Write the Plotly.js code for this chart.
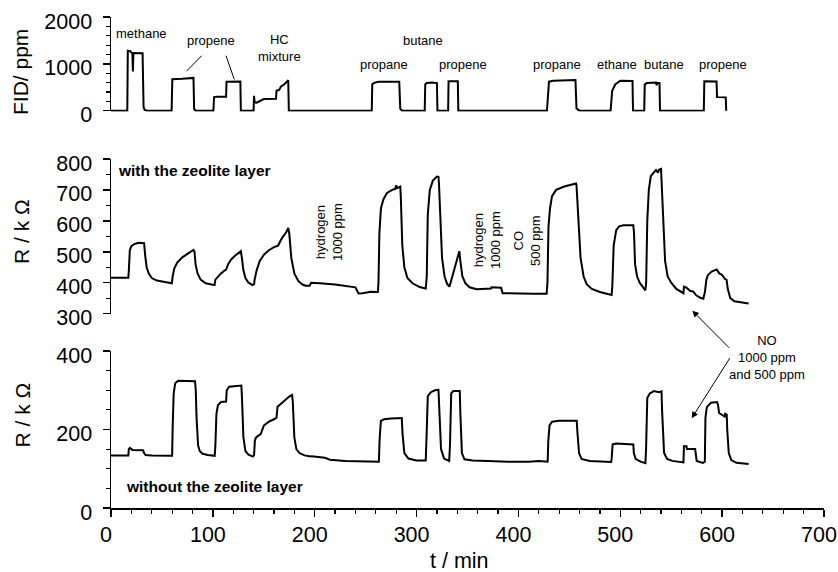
<!DOCTYPE html>
<html>
<head>
<meta charset="utf-8">
<script src="https://cdn.plot.ly/plotly-3.0.1.min.js"></script>
<style>html,body{margin:0;padding:0;background:#fff;}#chart{width:838px;height:572px;}</style>
</head>
<body>
<div id="chart"></div>
<script>
// ---------- data ----------
// FID signal (ppm) vs time (min)
const fidTime = [0,16,16.5,19,20,21,21.5,22,31,32,33,35,59.5,60.2,70,81,81.6,83,100.5,101.2,104,113,113.4,127,127.5,140,140.4,141,143,148,150,162,162.5,165,167,170,174,174.6,256,256.5,259,263,283,284,286,308,308.5,310,315,320,320.5,331,331.4,340.5,341,428,430,434,456,457,460,490.5,492,495,500,512,512.5,523.5,524,526,528,532,535,535.7,536.5,538.5,539,582,582.5,594.5,595,603.5,604];
const fidPpm  = [0,0,1280,1270,1240,1230,840,1230,1225,80,20,0,0,670,680,700,40,0,0,290,300,300,620,625,0,0,320,180,170,240,250,255,430,440,520,560,650,0,0,570,600,620,620,40,0,0,560,590,600,590,0,0,630,630,0,0,620,640,655,50,0,0,420,560,640,635,0,0,560,590,595,605,600,545,590,590,0,0,630,625,290,285,0];

// Resistance with the zeolite layer (kOhm)
const zeoTime = [0,17,17.5,18.5,20,23,27,31,32.5,33.5,35,37,40,45,50,57,59.8,60.5,62,65,70,75,81,82,83,85,88,93,100,101.7,102.5,105,108,111,113,115,118,122,127.5,128.5,130,132,135,139,140.5,141,143,146,150,155,160,164,165,166,168,172,174,175,177,180,184,188,191,195,196.5,205,220,240,243,247,255,262,262.6,263.5,265,267.5,271,276,279,280,281,284,284.5,286,288,291,296,303,309,310,311,313,316,320,321.5,322,323.5,325,327.5,330,332.3,333,335,338,341,342,343,345,348,352,359,370,373,373.5,383,384.5,400,415,427.7,428.5,429.5,431,433,437,445,456.5,457,459,461,464,467,472,480,491.5,492.2,493.5,496,499,503,512.8,513.5,514.5,516.5,519,522,524.6,525.4,526.5,528,530,533,535,537,538,540,541,542.5,544,546.5,550,555,562,562.5,565,568.4,571.7,574.3,578,581.5,583.1,584.5,586,589.7,594.6,597.2,600,602.8,604.4,605.5,608,612,618,626];
const zeoR    = [416,416,440,505,518,525,529,530,528,490,450,430,415,407,404,400,398,420,445,465,482,493,506,500,460,430,410,398,393,392,410,420,430,438,442,460,475,488,502,480,440,415,400,392,395,410,440,470,490,505,515,520,527,535,545,563,577,560,480,430,405,394,390,390,400,398,394,385,365,366,371,370,400,560,640,670,690,700,703,715,706,711,680,520,450,415,398,386,381,420,620,700,730,743,742,720,600,480,420,396,387,395,420,450,490,502,470,420,398,385,379,379,381,385,384,366,364,364,364,400,580,640,680,700,711,721,715,600,480,420,395,380,370,360,390,520,570,582,586,586,560,460,420,400,387,375,400,600,700,745,757,764,756,765,768,700,560,470,420,400,380,366,387,384,374,371,360,352,348,370,409,425,436,443,430,425,412,409,380,350,340,336,333];

// Resistance without the zeolite layer (kOhm)
const bareTime = [0,17,17.5,18.5,21,25,31.5,32.5,34,40,57,60,60.5,61.5,63,66,82.5,83.2,84,85.5,87,90,95,101.8,102.5,103.5,105,108,113,113.6,116,122,128,128.6,130,132,135,139.3,140.5,141.2,142,144,147,150,155,160,162.5,163.5,166,170,175,177.8,178.5,180,182,185,190,196,197,210,213,215,230,250,263,263.8,265,268,275,285.5,286.2,288,292,300,309,309.8,311,314,318,321.5,322.2,324,327,332,332.8,334,336,342.4,343,344.5,347,355,370,390,410,420,428.7,429.3,430.5,433,440,457.2,458,459.5,462,470,491,491.5,492.5,496,512.8,513.3,515,520,524.7,525.3,526.5,529,533,536,538,540.5,541,543,546,551,562,562.5,565,565.5,573.5,575,581,583,583.6,585,589,595,596,597,602.5,603,604.5,605,606.5,609,614,626];
const bareR    = [134,134,150,153,148,147,147,140,135,134,133,133,200,290,318,324,323,300,230,160,145,138,135,133,160,240,262,270,271,300,309,311,312,280,180,145,136,131,135,170,178,183,188,210,220,226,230,258,264,274,284,288,270,180,150,140,134,131,132,128,126,123,120,118,118,180,222,226,228,229,190,140,126,121,121,180,285,295,300,301,260,150,126,120,160,292,298,298,240,140,124,121,120,118,118,120,118,170,210,220,222,222,190,140,125,120,117,125,162,164,162,140,125,118,114,150,280,292,298,297,295,297,250,140,125,120,116,157,157,150,150,120,115,118,230,257,268,270,262,242,233,240,238,200,140,122,115,112];

// tick labels / text
const xTickVals = [0,100,200,300,400,500,600,700];
const gasLabels = ['methane','propene','HC<br>mixture','propane','butane','propene','propane','ethane','butane','propene'];
const gasLabelT = [29.5,98.2,165.9,268,306.3,345.6,437.9,496.3,542.9,600.8];
const gasLabelY = [1658,1509,1338,997,1509,997,997,997,997,997];

// ---------- layout ----------
const FONT = 'Liberation Sans, Arial, Helvetica, sans-serif';
const lineStyle = {color:'#000', width:2};

const traces = [
  {x:fidTime, y:fidPpm, xaxis:'x', yaxis:'y3', mode:'lines', line:lineStyle, hoverinfo:'skip'},
  {x:zeoTime, y:zeoR, xaxis:'x', yaxis:'y2', mode:'lines', line:lineStyle, hoverinfo:'skip'},
  {x:bareTime, y:bareR, xaxis:'x', yaxis:'y', mode:'lines', line:lineStyle, hoverinfo:'skip'}
];

function yax(domain, range, dtick, minorDtick){
  return {
    domain: domain, range: range, dtick: dtick, tick0: 0,
    showline:true, linecolor:'#000', linewidth:1.5, mirror:false,
    ticks:'outside', ticklen:7, tickwidth:1.5, tickcolor:'#000',
    showgrid:false, zeroline:false, anchor:'x',
    tickfont:{family:FONT, size:21.5, color:'#000'},
    ticklabelshift:4, ticklabelstandoff:6,
    minor:{dtick:minorDtick, tick0:0, ticks:'outside', ticklen:4, tickwidth:1.2, tickcolor:'#000', showgrid:false}
  };
}

const annotations = [];
for (let i = 0; i < gasLabels.length; i++) {
  annotations.push({x:gasLabelT[i], y:gasLabelY[i], xref:'x', yref:'y3', text:gasLabels[i], showarrow:false,
    font:{family:FONT, size:13, color:'#000'}, xanchor:'center', yanchor:'middle'});
}
const C = {xanchor:'center', yanchor:'middle', showarrow:false};
annotations.push(
  {x:4.9, y:762, xref:'x', yref:'y2', text:'<b>with the zeolite layer</b>', showarrow:false, xanchor:'left', yanchor:'middle', font:{family:FONT, size:15.5, color:'#000'}},
  {x:12.8, y:56, xref:'x', yref:'y', text:'<b>without the zeolite layer</b>', showarrow:false, xanchor:'left', yanchor:'middle', font:{family:FONT, size:15.5, color:'#000'}},
  Object.assign({x:214, y:564, xref:'x', yref:'y2', text:'hydrogen<br>1000 ppm', textangle:-90, font:{family:FONT, size:13, color:'#000'}}, C),
  Object.assign({x:369.1, y:538, xref:'x', yref:'y2', text:'hydrogen<br>1000 ppm', textangle:-90, font:{family:FONT, size:13, color:'#000'}}, C),
  Object.assign({x:408.4, y:538, xref:'x', yref:'y2', text:'CO<br>500 ppm', textangle:-90, font:{family:FONT, size:13, color:'#000'}}, C),
  Object.assign({x:644, y:0.3065, xref:'x', yref:'paper', text:'NO<br>1000 ppm<br>and 500 ppm', font:{family:FONT, size:13, color:'#000'}}, C),
  {x:570.7, y:0.4018, xref:'x', yref:'paper', text:'', showarrow:true, arrowhead:2, arrowsize:1.3, arrowwidth:1, arrowcolor:'#000', ax:38.4, ay:38.6, standoff:0},
  {x:570.1, y:0.1827, xref:'x', yref:'paper', text:'', showarrow:true, arrowhead:2, arrowsize:1.3, arrowwidth:1, arrowcolor:'#000', ax:39, ay:-61.6, standoff:0},
  // axis titles
  Object.assign({x:-0.1269, y:0.887, xref:'paper', yref:'paper', text:'FID/ ppm', textangle:-90, font:{family:FONT, size:21, color:'#000'}}, C),
  Object.assign({x:-0.1255, y:0.5631, xref:'paper', yref:'paper', text:'R / k Ω', textangle:-90, font:{family:FONT, size:21, color:'#000'}}, C),
  Object.assign({x:-0.1255, y:0.1894, xref:'paper', yref:'paper', text:'R / k Ω', textangle:-90, font:{family:FONT, size:21, color:'#000'}}, C),
  Object.assign({x:0.4888, y:-0.107, xref:'paper', yref:'paper', text:'t / min', borderpad:0, font:{family:FONT, size:21.5, color:'#000'}}, C)
);

const shapes = [
  {type:'line', xref:'x', yref:'y3', x0:89.0, y0:1174, x1:74.2, y1:846, line:{color:'#000', width:1}},
  {type:'line', xref:'x', yref:'y3', x0:112.9, y0:1174, x1:121.0, y1:670, line:{color:'#000', width:1}}
];

const layout = {
  width:838, height:572,
  margin:{l:111, r:14, t:17, b:64, pad:0},
  paper_bgcolor:'#fff', plot_bgcolor:'rgba(0,0,0,0)',
  showlegend:false,
  font:{family:FONT, color:'#000'},
  xaxis:{
    domain:[0,1], range:[0,700], tickvals:xTickVals, anchor:'y',
    showline:true, linecolor:'#000', linewidth:1.5,
    ticks:'outside', ticklen:7, tickwidth:1.5, tickcolor:'#000',
    showgrid:false, zeroline:false,
    tickfont:{family:FONT, size:21.5, color:'#000'},
    ticklabelshift:-5, ticklabelstandoff:0,
    minor:{dtick:20, tick0:0, ticks:'outside', ticklen:4, tickwidth:1.2, tickcolor:'#000', showgrid:false}
  },
  yaxis: yax([0, 0.3198], [0, 400], 200, 50),
  yaxis2: yax([0.3959, 0.7108], [300, 800], 100, 50),
  yaxis3: yax([0.8077, 1.0], [-15, 2000], 1000, 200),
  annotations: annotations,
  shapes: shapes
};

Plotly.newPlot('chart', traces, layout, {staticPlot:true, displayModeBar:false});
</script>
</body>
</html>
